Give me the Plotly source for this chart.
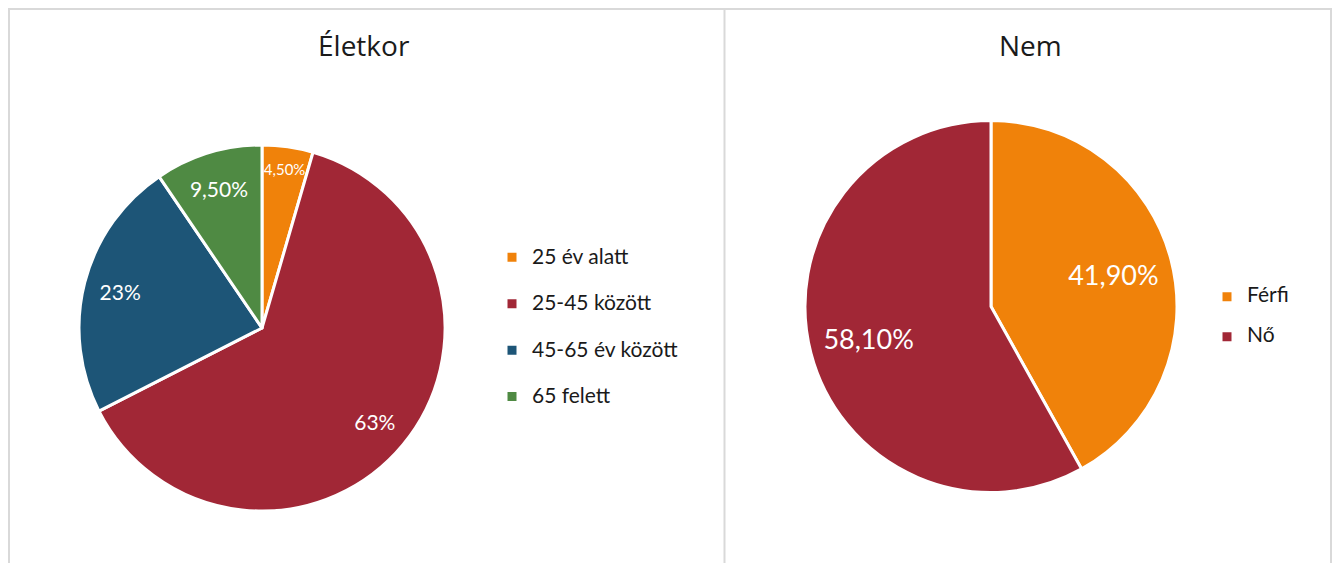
import plotly.graph_objects as go

# Életkor (age groups)
age_labels = ["25 év alatt", "25-45 között", "45-65 év között", "65 felett"]
age_values = [4.5, 63, 23, 9.5]
age_text = ["4,50%", "63%", "23%", "9,50%"]
age_colors = ["#F0820A", "#A12736", "#1D5577", "#4F8A43"]

# Nem (gender)
sex_labels = ["Férfi", "Nő"]
sex_values = [41.9, 58.1]
sex_text = ["41,90%", "58,10%"]
sex_colors = ["#F0820A", "#A12736"]

# the html page body has an 8px margin, so the figure is a bit smaller than the window
OFF = 8
W, H = 1340 - 2 * OFF, 571 - 2 * OFF
FONT = "Lato"
CLEAR = "rgba(0,0,0,0)"


# page pixel -> paper coordinate
def px(x):
    return (x - OFF) / W


def py(y):
    return 1 - (y - OFF) / H


# legend rows are taller in the original: small legend font for the row height,
# real text size in a span, plus an empty second line
def tall_label(name, size):
    return '<span style="font-size:%dpx">%s</span><br> ' % (size, name)


def add_pie(labels, values, text, colors, domain, legend, text_size, hole):
    # coloured slices
    fig.add_trace(go.Pie(
        labels=labels, values=values,
        textinfo="none",
        marker=dict(colors=colors, line=dict(color="white", width=3)),
        sort=False, direction="clockwise", rotation=0,
        hoverinfo="skip", domain=domain, legend=legend,
    ))
    # same slices again, transparent with a hole, only to push the labels outwards
    fig.add_trace(go.Pie(
        labels=labels, values=values, text=text,
        textinfo="text", textposition="inside",
        insidetextorientation="horizontal",
        textfont=dict(family=FONT, size=text_size, color="white"),
        marker=dict(colors=[CLEAR] * len(values), line=dict(width=0)),
        hole=hole, sort=False, direction="clockwise", rotation=0,
        hoverinfo="skip", domain=domain, showlegend=False,
    ))


fig = go.Figure()

add_pie([tall_label(s, 21) for s in age_labels], age_values, age_text, age_colors,
        dict(x=[px(79), px(445)], y=[py(511), py(145)]), "legend", 21, 0.6)
add_pie([tall_label(s, 21) for s in sex_labels], sex_values, sex_text, sex_colors,
        dict(x=[px(805), px(1177)], y=[py(493), py(120)]), "legend2", 27, 0.36)

title_font = dict(family="Open Sans", size=28, color="#1a1a1a")

fig.update_layout(
    width=W, height=H,
    margin=dict(l=0, r=0, t=0, b=0),
    paper_bgcolor="white",
    plot_bgcolor="white",
    font=dict(family=FONT, color="#262626"),
    legend=dict(x=px(492), y=py(240), xanchor="left", yanchor="top",
                font=dict(family=FONT, size=16.7, color="#1a1a1a"),
                valign="top", bgcolor=CLEAR),
    legend2=dict(x=px(1207), y=py(281), xanchor="left", yanchor="top",
                 font=dict(family=FONT, size=14.2, color="#1a1a1a"),
                 valign="top", bgcolor=CLEAR),
    annotations=[
        dict(text="Életkor", x=px(364), y=py(45), xref="paper", yref="paper",
             xanchor="center", yanchor="middle", showarrow=False, font=title_font),
        dict(text="Nem", x=px(1030.5), y=py(45), xref="paper", yref="paper",
             xanchor="center", yanchor="middle", showarrow=False, font=title_font),
    ],
    shapes=[
        dict(type="rect", xref="paper", yref="paper",
             x0=px(9), x1=px(1331), y0=-0.05, y1=py(9),
             line=dict(color="#D9D9D9", width=2)),
        dict(type="line", xref="paper", yref="paper",
             x0=px(724.5), x1=px(724.5), y0=-0.05, y1=py(9),
             line=dict(color="#D9D9D9", width=2)),
    ],
)

fig.write_html("out.html")
